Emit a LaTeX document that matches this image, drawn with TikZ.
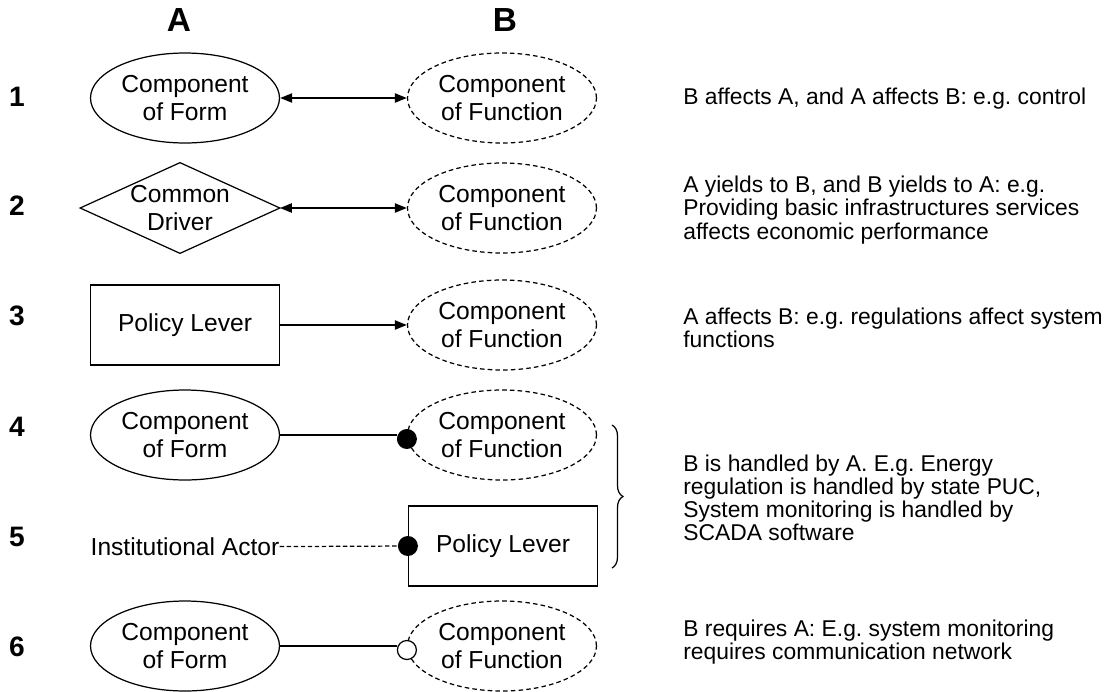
\documentclass[tikz,border=0pt]{standalone}
\usepackage{fontspec}
\setmainfont{Liberation Sans}
\usetikzlibrary{shapes.geometric,arrows.meta,decorations.pathreplacing}
\frenchspacing
\tikzset{
  form/.style={ellipse, draw, line width=0.7pt, minimum width=3.78cm, minimum height=1.8cm, inner sep=0pt, align=center, font=\fontsize{14}{16}\selectfont},
  func/.style={form, dash pattern=on 2.6pt off 1.8pt},
  lever/.style={rectangle, draw, line width=0.7pt, minimum width=3.78cm, minimum height=1.6cm, inner sep=0pt, font=\fontsize{14}{16}\selectfont},
  desc/.style={anchor=west, align=left, inner sep=0pt, font=\fontsize{13}{13.2}\selectfont},
  num/.style={inner sep=0pt, font=\fontsize{16}{16}\selectfont\bfseries},
  head/.style={inner sep=0pt, font=\fontsize{19}{19}\selectfont\bfseries},
  both/.style={line width=1.2pt, {Triangle[length=0.24cm,width=0.18cm]}-{Triangle[length=0.24cm,width=0.18cm]}},
  one/.style={line width=1.2pt, -{Triangle[length=0.24cm,width=0.18cm]}},
  dot/.style={circle, fill, inner sep=0pt, minimum size=0.4cm},
  odot/.style={circle, draw, fill=white, line width=0.7pt, inner sep=0pt, minimum size=0.38cm}
}
\begin{document}
\begin{tikzpicture}[x=0.02cm, y=-0.02cm]
    \useasboundingbox (0,0) rectangle (1117,691);

    % column heads
    \node[head] (hA) at (179,20) {A};
    \node[head] (hB) at (505,20) {B};

    % row numbers
    \node[num] (n1) at (17,97) {1};
    \node[num] (n2) at (17,206) {2};
    \node[num] (n3) at (17,316) {3};
    \node[num] (n4) at (17,427) {4};
    \node[num] (n5) at (17,537) {5};
    \node[num] (n6) at (17,647) {6};

    % row 1
    \node[form] (a1) at (185,98) {Component\\of Form};
    \node[func] (b1) at (502,98) {Component\\of Function};
    \draw[both] (a1) -- (b1);

    % row 2
    \node[minimum width=3.98cm, minimum height=1.8cm, inner sep=0pt, align=center, font=\fontsize{14}{16}\selectfont] (drv) at (180,208) {Common\\Driver};
    \draw[line width=0.7pt] (drv.north) -- (drv.east) -- (drv.south) -- (drv.west) -- cycle;
    \node[func] (b2) at (502,208) {Component\\of Function};
    \draw[both] (drv.east) -- (b2);

    % row 3
    \node[lever] (lev3) at (185,325) {Policy Lever};
    \node[func] (b3) at (502,325) {Component\\of Function};
    \draw[one] (lev3) -- (b3);

    % row 4
    \node[form] (a4) at (185,435) {Component\\of Form};
    \node[func] (b4) at (502,435) {Component\\of Function};
    \node[dot] (d4) at ([yshift=-0.08cm]b4.west) {};
    \draw[line width=0.7pt] (a4.east) -- (a4.east -| d4.west);

    % row 5
    \node[inner sep=0pt, font=\fontsize{14}{16}\selectfont] (actor) at (185,547) {Institutional Actor};
    \node[lever] (lev5) at (503,546) {Policy Lever};
    \node[dot] (d5) at (lev5.west) {};
    \draw[line width=0.7pt, dash pattern=on 2.5pt off 1.5pt] (actor) -- (d5);

    % row 6
    \node[form] (a6) at (185,646) {Component\\of Form};
    \node[func] (b6) at (502,646) {Component\\of Function};
    \node[odot] (d6) at ([yshift=-0.08cm]b6.west) {};
    \draw[line width=0.7pt] (a6.east) -- (a6.east -| d6.west);

    % brace over rows 4 and 5
    \coordinate (br1) at (612,425);
    \coordinate (br2) at (612,568);
    \draw[line width=0.7pt, decorate, decoration={brace, amplitude=0.22cm}] (br1) -- (br2);

    % descriptions
    \node[desc] (t1) at (683,99) {B affects A, and A affects B: e.g. control};
    \node[desc] (t2) at (683,210) {A yields to B, and B yields to A: e.g.\\Providing basic infrastructures services\\affects economic performance};
    \node[desc] (t3) at (683,328) {A affects B: e.g. regulations affect system\\functions};
    \node[desc] (t4) at (683,498) {B is handled by A. E.g. Energy\\regulation is handled by state PUC,\\System monitoring is handled by\\SCADA software};
    \node[desc] (t6) at (683,642) {B requires A: E.g. system monitoring\\requires communication network};
\end{tikzpicture}
\end{document}
